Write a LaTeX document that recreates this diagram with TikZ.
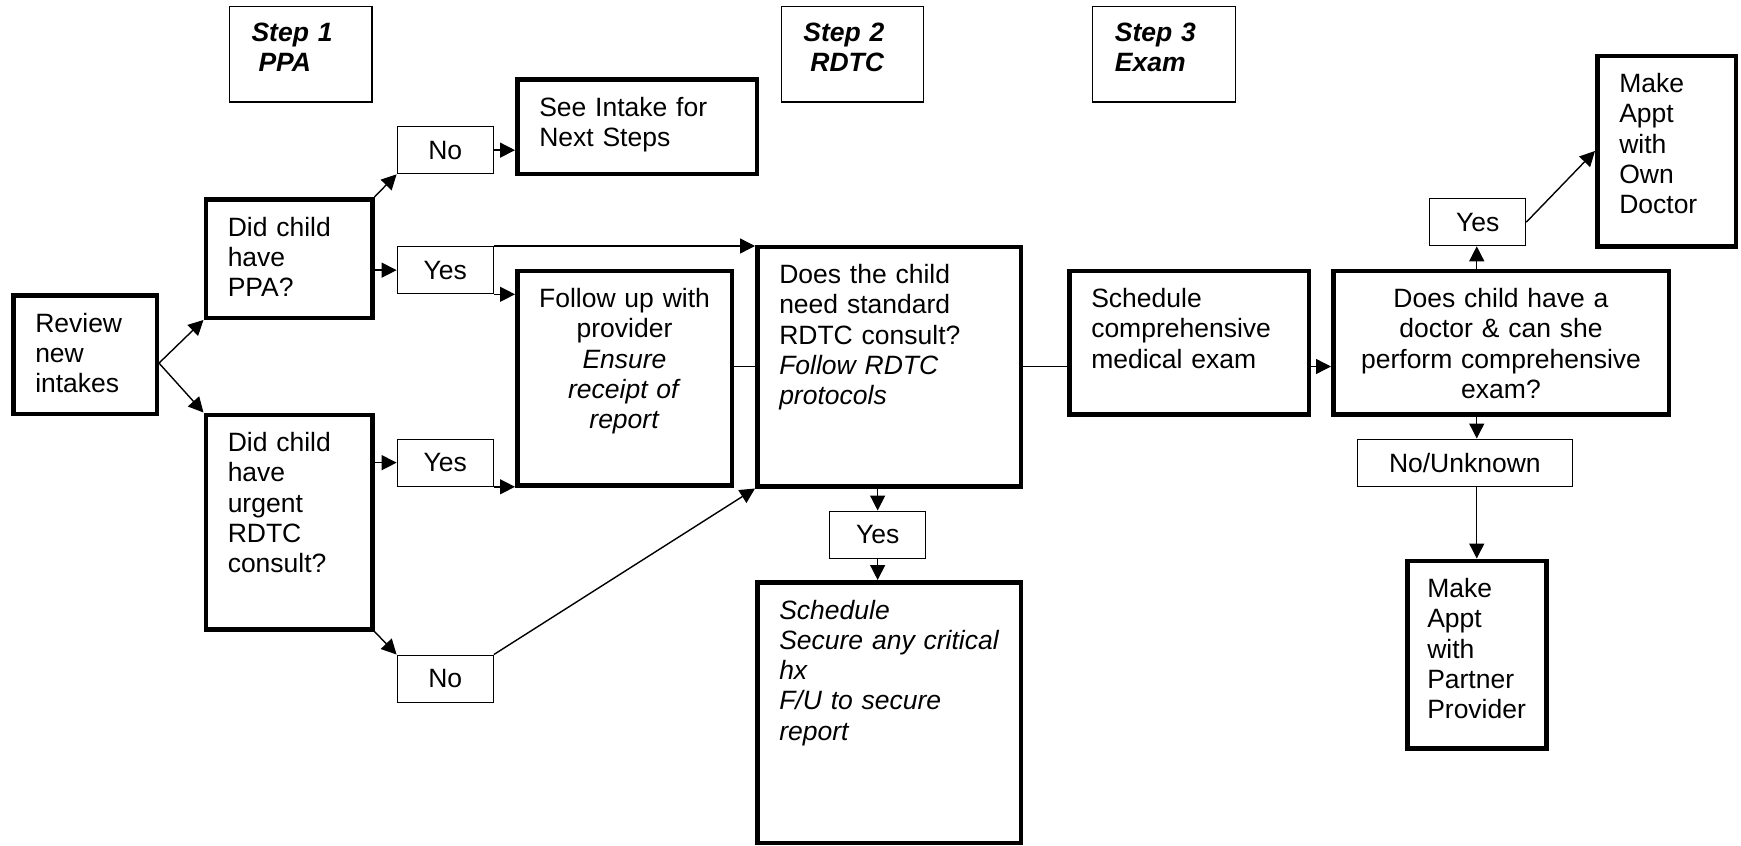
\documentclass[tikz,border=0pt]{standalone}
\usepackage{fontspec}
\setmainfont{Liberation Sans}
\usetikzlibrary{arrows.meta}
\newcommand{\flowfont}{\fontsize{26.5pt}{30.3pt}\selectfont}

\begin{document}
\begin{tikzpicture}[->, >={Triangle[length=15pt,width=15pt]}, line width=1.4pt, x=1pt, y=-1pt, font=\flowfont]
\tikzstyle{bigbox}=[draw,line width=4.5pt,anchor=north west,inner xsep=22pt,inner ysep=18pt,text height=18.75pt,align=left]
\tikzstyle{stepbox}=[draw,line width=1.3pt,anchor=north west,inner xsep=22.3pt,inner ysep=16pt,text width=98pt,text height=19pt,text depth=44.4pt,align=left,font=\flowfont\bfseries\itshape]
\tikzstyle{smallbox}=[draw,line width=1.3pt,anchor=north west,inner sep=0pt,minimum width=96pt,minimum height=47pt]
\useasboundingbox (0,0) rectangle (1741,846);

\node[stepbox] (step1) at (228.6,6)  {Step 1\\\hspace*{7pt}PPA};
\node[stepbox] (step2) at (780.5,6)  {Step 2\\\hspace*{7pt}RDTC};
\node[stepbox] (step3) at (1092,6)   {Step 3\\Exam};

\node[bigbox,text width=99.5pt,text depth=63.75pt]   (review)  at (11,293)     {Review\\new\\intakes};
\node[bigbox,text width=122.5pt,text depth=63.75pt]  (ppa)     at (203.5,197)  {Did child\\have\\PPA?};
\node[bigbox,text width=122.5pt,text depth=159.75pt] (urgent)  at (203.5,412.5){Did child\\have\\urgent\\RDTC\\consult?};
\node[bigbox,text width=195.5pt,text depth=39.75pt]  (intake)  at (515,77)     {See Intake for\\Next Steps};
\node[bigbox,inner xsep=16pt,text width=182.5pt,text depth=159.75pt,align=center] (follow) at (515,268.5)
     {Follow up with\\provider\\\textit{Ensure}\\\textit{receipt of}\\\textit{report}};
\node[bigbox,text width=219.5pt,text depth=184.75pt] (consult) at (755,244.5)
     {Does the child\\need standard\\RDTC consult?\\\textit{Follow RDTC}\\\textit{protocols}};
\node[bigbox,text width=219.5pt,text depth=205.75pt,font=\flowfont\itshape] (sched) at (755,580)
     {Schedule\\Secure any critical\\hx\\F/U to secure\\report};
\node[bigbox,text width=195.5pt,text depth=88.75pt]  (comp)    at (1067,268.5) {Schedule\\comprehensive\\medical exam};
\node[bigbox,text width=291.5pt,text depth=88.75pt,align=center] (doctor) at (1331,268.5)
     {Does child have a\\doctor \& can she\\perform comprehensive\\exam?};
\node[bigbox,text width=94.5pt,text depth=135.75pt]  (own)     at (1595,53.5)  {Make\\Appt\\with\\Own\\Doctor};
\node[bigbox,inner xsep=20pt,text width=99pt,text depth=132.75pt] (partner) at (1405,558.5) {Make\\Appt\\with\\Partner\\Provider};

\node[smallbox] (no1)  at (396.6,126)   {No};
\node[smallbox] (yes1) at (396.6,246)   {Yes};
\node[smallbox] (yes2) at (396.6,438.5) {Yes};
\node[smallbox] (no2)  at (396.6,654.5) {No};
\node[smallbox] (yes3) at (829,510.5)   {Yes};
\node[smallbox] (yes4) at (1429,198)    {Yes};
\node[smallbox,minimum width=215pt] (unknown) at (1356.7,438.5) {No/Unknown};

\path
([yshift=-8.6pt]review.east) edge (ppa.south west)
([yshift=-8.6pt]review.east) edge (urgent.north west)
(ppa.north east)             edge (no1.south west)
(ppa.east |- yes1.west)      edge (yes1.west)
(no1.east)                   edge (no1.east -| intake.west)
(yes1.north east)            edge (yes1.north east -| consult.west)
(yes1.south east)            edge (yes1.south east -| follow.west)
(urgent.east |- yes2.west)   edge (yes2.west)
(yes2.south east)            edge (yes2.south east -| follow.west)
(urgent.south east)          edge (no2.north west)
(no2.north east)             edge (consult.south west)
(follow.east |- consult.west) edge[-] (consult.west)
(consult.east)               edge[-] (consult.east -| comp.west)
(consult.east -| comp.east)  edge (consult.east -| doctor.west)
(yes3.north |- consult.south) edge (yes3.north)
(yes3.south)                 edge (yes3.south |- sched.north)
(partner.north |- doctor.north) edge (partner.north |- yes4.south)
(yes4.east)                  edge (own.west)
(partner.north |- doctor.south) edge (partner.north |- unknown.north)
(partner.north |- unknown.south) edge (partner.north);

\end{tikzpicture}
\end{document}
